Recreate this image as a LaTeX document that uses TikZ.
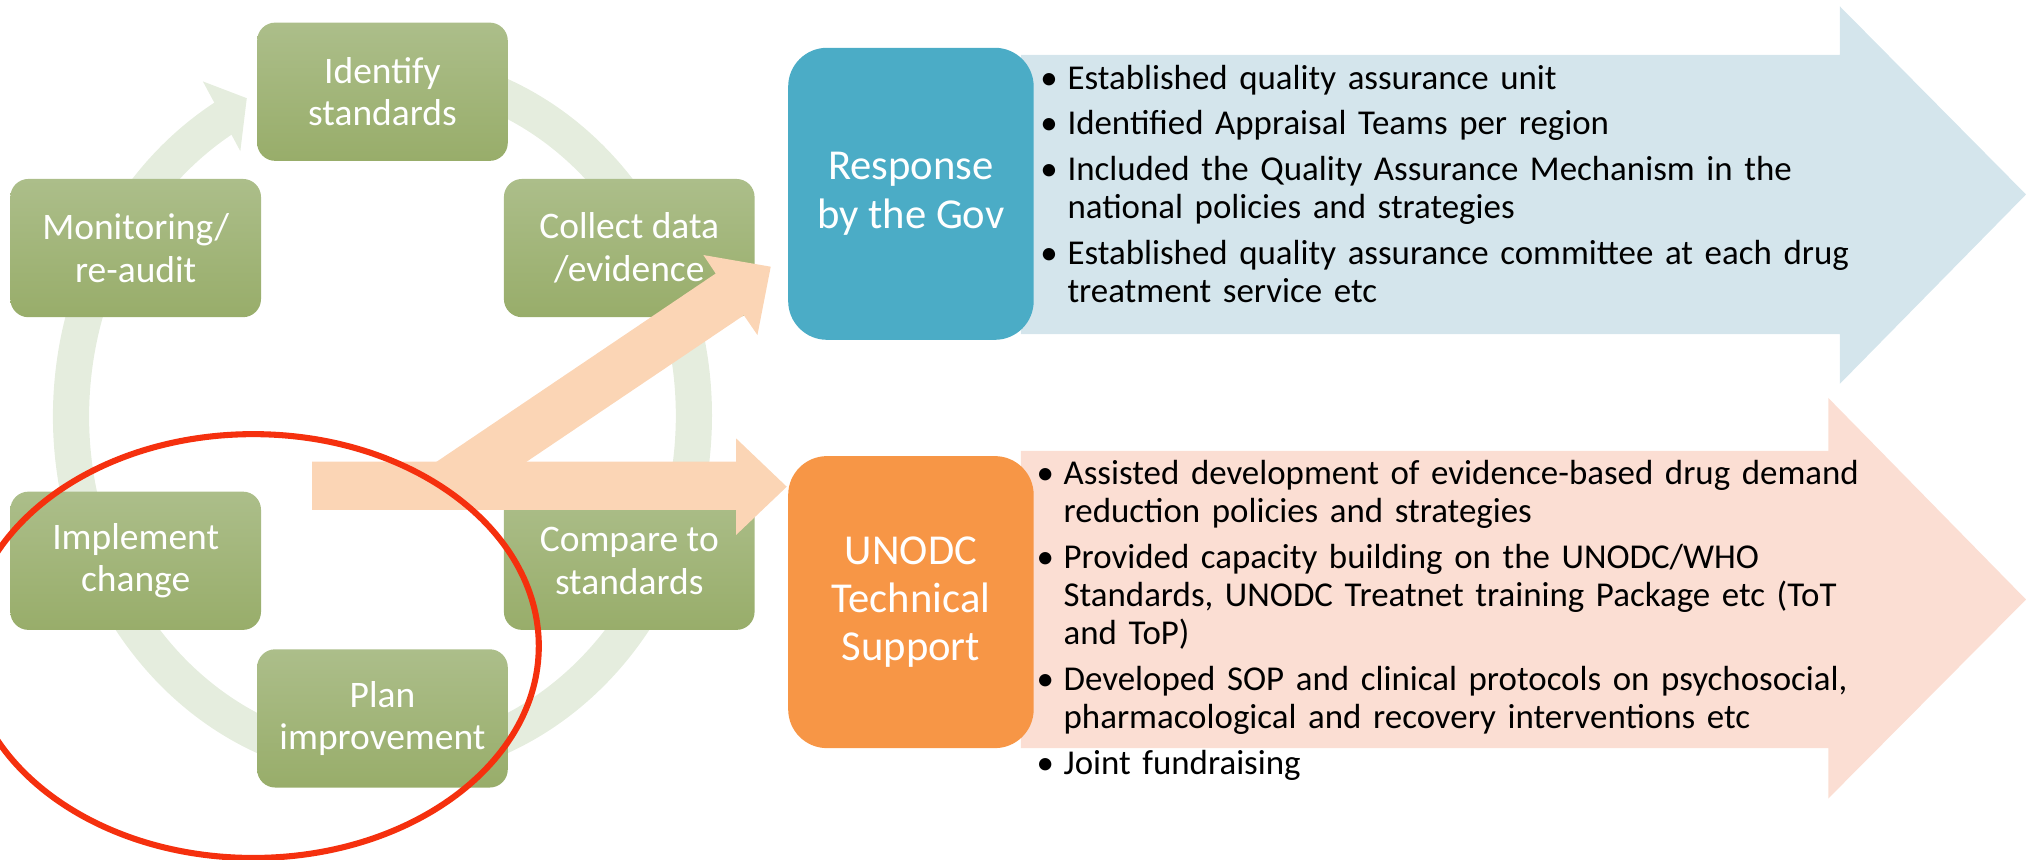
\documentclass[tikz,border=0pt]{standalone}
\usepackage{fontspec}
\setmainfont{Carlito}
\usetikzlibrary{backgrounds}

\definecolor{ringgreen}{RGB}{229,237,222}
\definecolor{stagetop}{RGB}{172,190,138}
\definecolor{stagebot}{RGB}{152,173,106}
\definecolor{govblue}{RGB}{75,172,198}
\definecolor{govpale}{RGB}{212,229,236}
\definecolor{unodcorange}{RGB}{247,150,70}
\definecolor{unodcpale}{RGB}{251,222,211}
\definecolor{linkpeach}{RGB}{251,213,181}
\definecolor{markred}{RGB}{245,48,14}

% bullet paragraph with hanging indent
\newcommand{\bitem}[1]{\par\hangindent=21pt\hangafter=1\noindent\makebox[21pt][l]{\textbullet}#1}

\begin{document}
\begin{tikzpicture}[x=1pt, y=1pt,
  stage/.style={rectangle, rounded corners=14pt, top color=stagetop, bottom color=stagebot, draw=none, minimum width=194pt, minimum height=107pt, inner sep=2pt, align=center, text=white, font=\fontsize{29}{33}\selectfont},
  actor/.style={rectangle, rounded corners=30pt, draw=none, minimum width=190pt, minimum height=226pt, align=center, text=white, font=\fontsize{33}{37.4}\selectfont},
  bullets/.style={anchor=base west, inner sep=0pt, text width=640pt, align=left, font=\fontsize{27}{29.5}\selectfont, execute at begin node={\setlength{\parskip}{6pt}}},
  ring/.style={line width=28pt, draw=ringgreen},
  link/.style={fill=linkpeach, draw=none}
]
\useasboundingbox (0,0) rectangle (1568,665);

% ============================================
% CYCLE (ring arrow behind the stages)
% ============================================
\draw[ring] (296,343) ++(80:241pt and 268pt) arc[start angle=80, end angle=-241, x radius=241pt, y radius=268pt];
\fill[ringgreen] (157,602) -- (191,589) -- (186,548) -- cycle;

\node[stage] (ident) at (296,594) {Identify\\standards};
\node[stage] (collect) at (487,473) {Collect data\\/evidence};
\node[stage] (compare) at (487,231) {Compare to\\standards};
\node[stage] (plan) at (296,109) {Plan\\improvement};
\node[stage] (implement) at (105,231) {Implement\\change};
\node[stage] (monitor) at (105,473) {Monitoring/\\re-audit};

% ============================================
% LINK ARROWS (cycle to the two actors)
% ============================================
\fill[link] (310.4,289.1) -- (553.9,453.3) -- (544.4,467.6) -- (596.5,458.6) -- (586.2,405.7) -- (575.7,421) -- (380,289.1) -- cycle;
\fill[link] (241.5,270.3) -- (569.7,270.3) -- (569.7,251) -- (608.9,288.3) -- (569.7,325.7) -- (569.7,307.7) -- (241.5,307.7) -- cycle;

% ============================================
% RESPONSE BY THE GOV
% ============================================
\fill[govpale] (790,406.5) -- (1424,406.5) -- (1424,368) -- (1568,514.5) -- (1424,660) -- (1424,622.5) -- (790,622.5) -- cycle;
\node[actor, fill=govblue] (gov) at (705,515) {Response\\by the Gov};
\node[bullets] (govlist) at (805,631.6) {%
\bitem{Established quality assurance unit}
\bitem{Identified Appraisal Teams per region}
\bitem{Included the Quality Assurance Mechanism in the\newline national policies and strategies}
\bitem{Established quality assurance committee at each drug\newline treatment service etc}\par};

% ============================================
% UNODC TECHNICAL SUPPORT
% ============================================
\fill[unodcpale] (790,86) -- (1415,86) -- (1415,47) -- (1568,201) -- (1415,357) -- (1415,316) -- (790,316) -- cycle;
\node[actor, fill=unodcorange] (unodc) at (705,199) {UNODC\\Technical\\Support};
\node[bullets] (unodclist) at (802,325.9) {%
\bitem{Assisted development of evidence-based drug demand\newline reduction policies and strategies}
\bitem{Provided capacity building on the UNODC/WHO\newline Standards, UNODC Treatnet training Package etc (ToT\newline and ToP)}
\bitem{Developed SOP and clinical protocols on psychosocial,\newline pharmacological and recovery interventions etc}
\bitem{Joint fundraising}\par};

% Red highlight round the lower stages
\draw[markred, line width=4.7pt] (196,165) ellipse[x radius=221pt, y radius=164pt];

\end{tikzpicture}
\end{document}
